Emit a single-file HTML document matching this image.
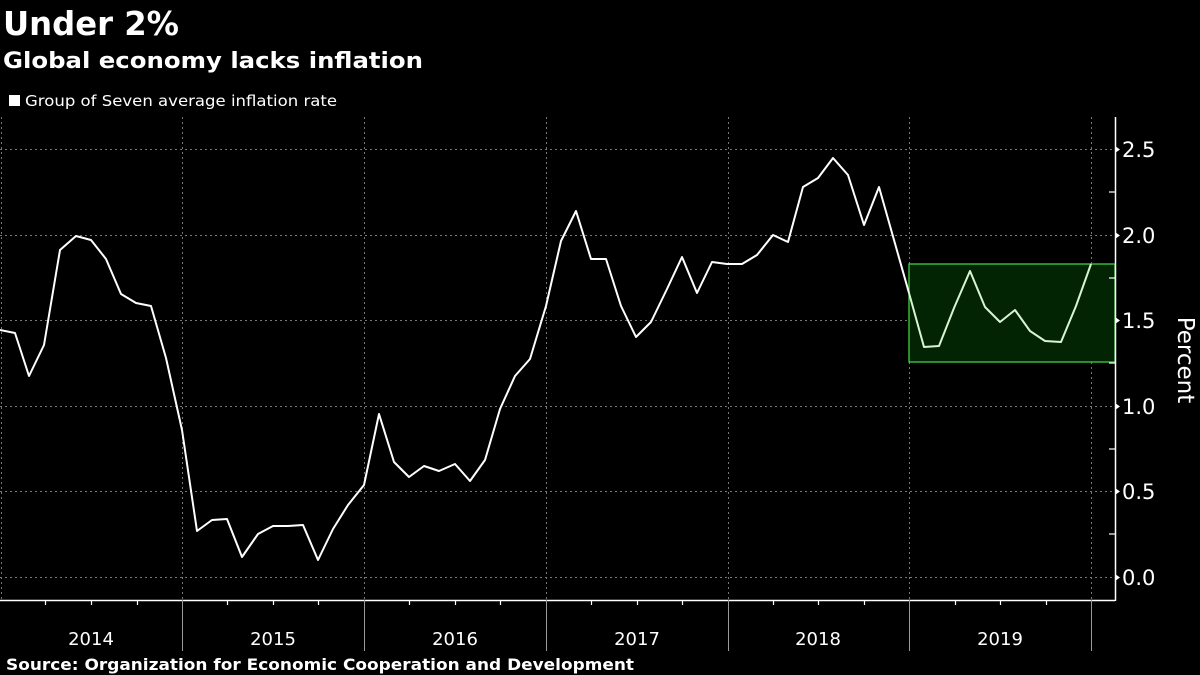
<!DOCTYPE html>
<html><head><meta charset="utf-8"><style>
html,body{margin:0;padding:0;background:#000;}
body{width:1200px;height:675px;overflow:hidden;position:relative;font-family:"DejaVu Sans","Liberation Sans",sans-serif;color:#fff;}
</style></head><body>
<svg width="1200" height="675" xmlns="http://www.w3.org/2000/svg" style="position:absolute;left:0;top:0">
<rect width="1200" height="675" fill="#000"/>
<text x="3" y="35" font-family="DejaVu Sans" font-weight="bold" font-size="33" fill="#fff" textLength="176" lengthAdjust="spacingAndGlyphs">Under 2%</text>
<text x="3" y="68" font-family="DejaVu Sans" font-weight="bold" font-size="22" fill="#fff" textLength="420" lengthAdjust="spacingAndGlyphs">Global economy lacks inflation</text>
<rect x="9" y="95" width="11" height="11" fill="#fff"/>
<text x="25" y="106" font-family="DejaVu Sans" font-size="15" fill="#fff" textLength="312" lengthAdjust="spacingAndGlyphs">Group of Seven average inflation rate</text>
<g stroke="#777" stroke-width="1" stroke-dasharray="2,3">
<line x1="0" y1="149.5" x2="1115" y2="149.5"/>
<line x1="0" y1="235.5" x2="1115" y2="235.5"/>
<line x1="0" y1="320.5" x2="1115" y2="320.5"/>
<line x1="0" y1="406.5" x2="1115" y2="406.5"/>
<line x1="0" y1="491.5" x2="1115" y2="491.5"/>
<line x1="0" y1="577.5" x2="1115" y2="577.5"/>
<line x1="1.5" y1="117" x2="1.5" y2="600"/>
<line x1="182.5" y1="117" x2="182.5" y2="600"/>
<line x1="364.5" y1="117" x2="364.5" y2="600"/>
<line x1="546.5" y1="117" x2="546.5" y2="600"/>
<line x1="728.5" y1="117" x2="728.5" y2="600"/>
<line x1="909.5" y1="117" x2="909.5" y2="600"/>
<line x1="1091.5" y1="117" x2="1091.5" y2="600"/>
</g>
<rect x="909" y="264" width="206" height="98" fill="#032403" stroke="#3fcf3f" stroke-width="1.3"/>
<polyline fill="none" stroke="#fff" stroke-width="2" stroke-linejoin="round" points="0,330 15,333 29,376 44,345 60,250 76,236 91,240 106,259 121,294 136,303 151,306 166,358 182,430 197,531 212,520 227,519 242,557 258,534 273,526 288,526 303,525 318,560 333,529 348,505 364,485 379,414 394,462 409,477 424,466 439,471 455,464 470,481 485,460 500,409 515,376 530,359 546,306 561,241 576,211 591,259 606,259 621,306 636,337 651,322 667,289 682,257 697,293 712,262 727,264 742,264 757,255 773,235 788,242 803,187 818,178 833,158 848,175 864,225 879,187 894,240 909,293"/>
<polyline fill="none" stroke="#d8f5d0" stroke-width="2" stroke-linejoin="round" points="909,293 924,347 939,346 954,308 970,271 985,307 1000,322 1015,310 1030,331 1045,341 1061,342 1076,306 1091,264"/>
<line x1="1115.5" y1="117" x2="1115.5" y2="601" stroke="#fff" stroke-width="1.5"/>
<g stroke="#fff" stroke-width="1.2">
<line x1="1109" y1="192" x2="1115" y2="192"/><line x1="1109" y1="278" x2="1115" y2="278"/><line x1="1109" y1="363" x2="1115" y2="363"/><line x1="1109" y1="449" x2="1115" y2="449"/><line x1="1109" y1="534" x2="1115" y2="534"/>
</g>
<g fill="#fff"><path d="M1115,146 l5,3.5 l-5,3.5z"/><path d="M1115,232 l5,3.5 l-5,3.5z"/><path d="M1115,317 l5,3.5 l-5,3.5z"/><path d="M1115,403 l5,3.5 l-5,3.5z"/><path d="M1115,488 l5,3.5 l-5,3.5z"/><path d="M1115,574 l5,3.5 l-5,3.5z"/></g>
<g font-family="DejaVu Sans" font-size="21" fill="#fff">
<text x="1122" y="157">2.5</text><text x="1122" y="243">2.0</text><text x="1122" y="328">1.5</text><text x="1122" y="414">1.0</text><text x="1122" y="499">0.5</text><text x="1122" y="585">0.0</text>
</g>
<text transform="translate(1178,360) rotate(90)" text-anchor="middle" font-family="DejaVu Sans" font-size="23" fill="#fff">Percent</text>
<line x1="0" y1="600.5" x2="1115" y2="600.5" stroke="#fff" stroke-width="1.5"/>
<g stroke="#fff" stroke-width="1.2">
<line x1="45.5" y1="600" x2="45.5" y2="605"/><line x1="91.5" y1="600" x2="91.5" y2="605"/><line x1="137.5" y1="600" x2="137.5" y2="605"/>
<line x1="227.5" y1="600" x2="227.5" y2="605"/><line x1="273.5" y1="600" x2="273.5" y2="605"/><line x1="318.5" y1="600" x2="318.5" y2="605"/>
<line x1="409.5" y1="600" x2="409.5" y2="605"/><line x1="455.5" y1="600" x2="455.5" y2="605"/><line x1="500.5" y1="600" x2="500.5" y2="605"/>
<line x1="591.5" y1="600" x2="591.5" y2="605"/><line x1="637.5" y1="600" x2="637.5" y2="605"/><line x1="682.5" y1="600" x2="682.5" y2="605"/>
<line x1="773.5" y1="600" x2="773.5" y2="605"/><line x1="818.5" y1="600" x2="818.5" y2="605"/><line x1="864.5" y1="600" x2="864.5" y2="605"/>
<line x1="955.5" y1="600" x2="955.5" y2="605"/><line x1="1000.5" y1="600" x2="1000.5" y2="605"/><line x1="1046.5" y1="600" x2="1046.5" y2="605"/>
</g>
<g stroke="#999" stroke-width="1">
<line x1="182.5" y1="600" x2="182.5" y2="651"/><line x1="364.5" y1="600" x2="364.5" y2="651"/><line x1="546.5" y1="600" x2="546.5" y2="651"/><line x1="728.5" y1="600" x2="728.5" y2="651"/><line x1="909.5" y1="600" x2="909.5" y2="651"/><line x1="1091.5" y1="600" x2="1091.5" y2="651"/>
</g>
<g font-family="DejaVu Sans" font-size="18" fill="#fff" text-anchor="middle">
<text x="91" y="645">2014</text><text x="273" y="645">2015</text><text x="455" y="645">2016</text><text x="637" y="645">2017</text><text x="818" y="645">2018</text><text x="1000" y="645">2019</text>
</g>
<text x="6" y="670" font-family="DejaVu Sans" font-weight="bold" font-size="16" fill="#fff" textLength="628" lengthAdjust="spacingAndGlyphs">Source: Organization for Economic Cooperation and Development</text>
</svg>
</body></html>
